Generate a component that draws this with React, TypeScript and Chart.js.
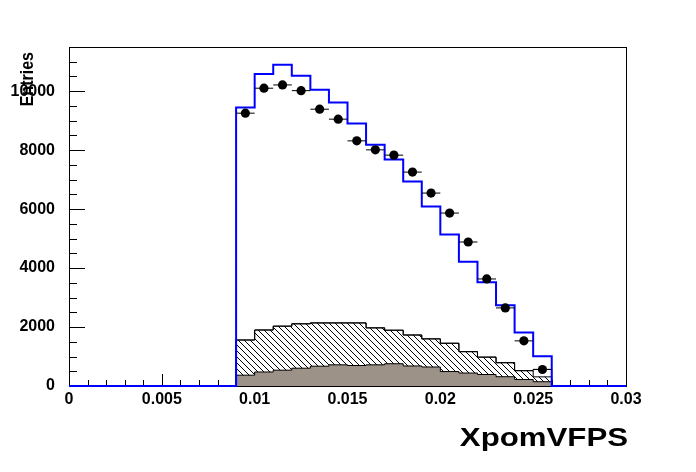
import { useEffect, useRef } from "react";
import { Chart, registerables } from "chart.js";

Chart.register(...registerables);

// Bin edges of the histogram (30 bins of 0.001 from 0 to 0.03)
const binEdges = [
  0, 0.001, 0.002, 0.003, 0.004, 0.005, 0.006, 0.007, 0.008, 0.009, 0.01,
  0.011, 0.012, 0.013, 0.014, 0.015, 0.016, 0.017, 0.018, 0.019, 0.02,
  0.021, 0.022, 0.023, 0.024, 0.025, 0.026, 0.027, 0.028, 0.029, 0.03,
];

// Axis tick labels
const xTickValues = [0, 0.005, 0.01, 0.015, 0.02, 0.025, 0.03];
const yTickValues = [0, 2000, 4000, 6000, 8000, 10000];

// Monte Carlo total (blue line)
const mcValues = [
  0, 0, 0, 0, 0, 0, 0, 0, 0,
  9444, 10586, 10901, 10528, 10054, 9614, 8902, 8181, 7683, 6938, 6091, 5142,
  4217, 3516, 2737, 1812, 1009,
  0, 0, 0, 0,
];

// Data points (null = empty bin)
const dataValues = [
  null, null, null, null, null, null, null, null, null,
  9255, 10102, 10213, 10020, 9390, 9052, 8316, 8011, 7832, 7256, 6545, 5867,
  4885, 3631, 2649, 1531, 559,
  null, null, null, null,
];

// Background stack (cumulative tops)
const stackTopValues = [
  0, 0, 0, 0, 0, 0, 0, 0, 0,
  1560, 1900, 2030, 2110, 2140, 2140, 2140, 1972, 1892, 1730, 1599, 1450,
  1165, 980, 790, 520, 565,
  0, 0, 0, 0,
];
const hatchTopValues = [
  0, 0, 0, 0, 0, 0, 0, 0, 0,
  1560, 1900, 2030, 2110, 2140, 2140, 2140, 1972, 1892, 1730, 1599, 1450,
  1165, 980, 790, 520, 310,
  0, 0, 0, 0,
];
const grayTopValues = [
  0, 0, 0, 0, 0, 0, 0, 0, 0,
  367, 475, 537, 604, 672, 718, 695, 718, 755, 680, 645, 490,
  440, 390, 315, 220, 145,
  0, 0, 0, 0,
];

const xTitle = "XpomVFPS";
const yTitle = "Entries";

const FONT = "'Liberation Sans', Arial, Helvetica, sans-serif";

function stepPoints(vals: number[]) {
  const pts = vals.map((v, i) => ({ x: binEdges[i], y: v }));
  pts.push({ x: binEdges[vals.length], y: vals[vals.length - 1] });
  return pts;
}

function makeHatch(): CanvasPattern | string {
  const c = document.createElement("canvas");
  const s = 6;
  c.width = s;
  c.height = s;
  const g = c.getContext("2d");
  if (!g) return "#ffffff";
  g.fillStyle = "#000000";
  for (let i = 0; i < s; i++) g.fillRect(i, i, 1, 1);
  const p = g.createPattern(c, "repeat");
  return p || "#ffffff";
}

const decorPlugin = {
  id: "decor",
  beforeDatasetsDraw(chart: any) {
    const { ctx, chartArea: a, scales } = chart;
    const x = scales.x;
    const y = scales.y;
    ctx.save();
    ctx.strokeStyle = "#000";
    ctx.lineWidth = 1;
    ctx.strokeRect(a.left + 0.5, a.top + 0.5, a.right - a.left, a.bottom - a.top);
    // y ticks (inside frame)
    const yMajor = yTickValues[1] - yTickValues[0];
    const yMinor = yMajor / 4;
    ctx.beginPath();
    for (let v = y.min; v <= y.max + 1e-9; v += yMinor) {
      const py = Math.round(y.getPixelForValue(v)) + 0.5;
      const isMajor = Math.abs(v / yMajor - Math.round(v / yMajor)) < 1e-6;
      const len = isMajor ? 16 : 8;
      ctx.moveTo(a.left, py);
      ctx.lineTo(a.left + len, py);
    }
    // x ticks
    const xMajor = xTickValues[1] - xTickValues[0];
    const xMinor = xMajor / 5;
    const n = Math.round((x.max - x.min) / xMinor);
    for (let i = 0; i <= n; i++) {
      const v = x.min + i * xMinor;
      const px = Math.round(x.getPixelForValue(v)) + 0.5;
      const isMajor = i % 5 === 0;
      const len = isMajor ? 12 : 6;
      ctx.moveTo(px, a.bottom);
      ctx.lineTo(px, a.bottom - len);
    }
    ctx.stroke();
    ctx.restore();
  },
  afterDraw(chart: any) {
    const { ctx, chartArea: a } = chart;
    ctx.save();
    ctx.fillStyle = "#000";
    // x title
    ctx.font = `bold 26px ${FONT}`;
    ctx.textAlign = "right";
    ctx.textBaseline = "alphabetic";
    ctx.save();
    ctx.translate(a.right + 2, 446);
    ctx.scale(1.2, 1);
    ctx.fillText(xTitle, 0, 0);
    ctx.restore();
    // y title
    ctx.font = `bold 16px ${FONT}`;
    ctx.save();
    ctx.translate(33, 52);
    ctx.rotate(-Math.PI / 2);
    ctx.scale(1, 1.2);
    ctx.textAlign = "right";
    ctx.fillText(yTitle, 0, 0);
    ctx.restore();
    ctx.restore();
  },
};

export default function App() {
  const ref = useRef<HTMLCanvasElement | null>(null);

  useEffect(() => {
    document.body.style.margin = "0";
    const canvas = ref.current;
    if (!canvas) return;

    const pointData: { x: number; y: number }[] = [];
    const errData: { x: number; y: number | null }[] = [];
    dataValues.forEach((v, i) => {
      if (v === null) return;
      const lo = binEdges[i];
      const hi = binEdges[i + 1];
      pointData.push({ x: (lo + hi) / 2, y: v });
      errData.push({ x: lo, y: v });
      errData.push({ x: hi, y: v });
      errData.push({ x: hi, y: null });
    });

    const hatch = makeHatch();

    const chart = new Chart(canvas, {
      type: "line",
      data: {
        datasets: [
          {
            label: "Data",
            data: pointData,
            showLine: false,
            pointRadius: 4.6,
            pointBackgroundColor: "#000",
            pointBorderWidth: 0,
            pointBorderColor: "#000",
          },
          {
            label: "Data errors",
            data: errData as any,
            borderColor: "#000",
            borderWidth: 1,
            pointRadius: 0,
            spanGaps: false,
            fill: false,
          },
          {
            label: "MC",
            data: stepPoints(mcValues),
            stepped: true,
            borderColor: "#0000ff",
            borderWidth: 2,
            pointRadius: 0,
            fill: false,
            clip: { left: 3, right: 3, top: 3, bottom: 3 } as any,
          },
          {
            label: "Gray background",
            data: stepPoints(grayTopValues),
            stepped: true,
            borderColor: "#000",
            borderWidth: 1,
            backgroundColor: "rgb(156,146,136)",
            pointRadius: 0,
            fill: "origin",
          },
          {
            label: "Hatched background",
            data: stepPoints(hatchTopValues),
            stepped: true,
            borderColor: "#000",
            borderWidth: 1,
            backgroundColor: hatch as any,
            pointRadius: 0,
            fill: "origin",
          },
          {
            label: "Other background",
            data: stepPoints(stackTopValues),
            stepped: true,
            borderColor: "#000",
            borderWidth: 1,
            backgroundColor: "#ffffff",
            pointRadius: 0,
            fill: "origin",
          },
        ],
      },
      options: {
        animation: false,
        responsive: false,
        devicePixelRatio: 1,
        layout: { padding: { top: 47, right: 70, left: 0, bottom: 0 } },
        plugins: {
          legend: { display: false },
          tooltip: { enabled: false },
          title: { display: false },
        },
        events: [],
        scales: {
          x: {
            type: "linear",
            min: 0,
            max: 0.03,
            grid: { display: false },
            border: { display: false },
            afterBuildTicks: (s: any) => {
              s.ticks = xTickValues.map((v) => ({ value: v }));
            },
            ticks: {
              autoSkip: false,
              maxRotation: 0,
              minRotation: 0,
              padding: -4,
              color: "#000",
              font: { family: FONT, weight: "bold", size: 16 },
              callback: (v: any) => parseFloat(Number(v).toFixed(4)).toString(),
            },
            afterFit: (s: any) => {
              s.height = 86;
            },
          },
          y: {
            type: "linear",
            min: 0,
            max: 11500,
            grid: { display: false },
            border: { display: false },
            afterBuildTicks: (s: any) => {
              s.ticks = yTickValues.map((v) => ({ value: v }));
            },
            ticks: {
              autoSkip: false,
              padding: 6,
              color: "#000",
              font: { family: FONT, weight: "bold", size: 16 },
              callback: (v: any) => String(Math.round(Number(v))),
            },
            afterFit: (s: any) => {
              s.width = 69;
            },
          },
        },
      },
      plugins: [decorPlugin],
    });

    return () => chart.destroy();
  }, []);

  return (
    <div style={{ position: "fixed", left: 0, top: 0, width: 696, height: 472, background: "#fff" }}>
      <canvas ref={ref} width={696} height={472} style={{ width: 696, height: 472, display: "block" }} />
    </div>
  );
}
